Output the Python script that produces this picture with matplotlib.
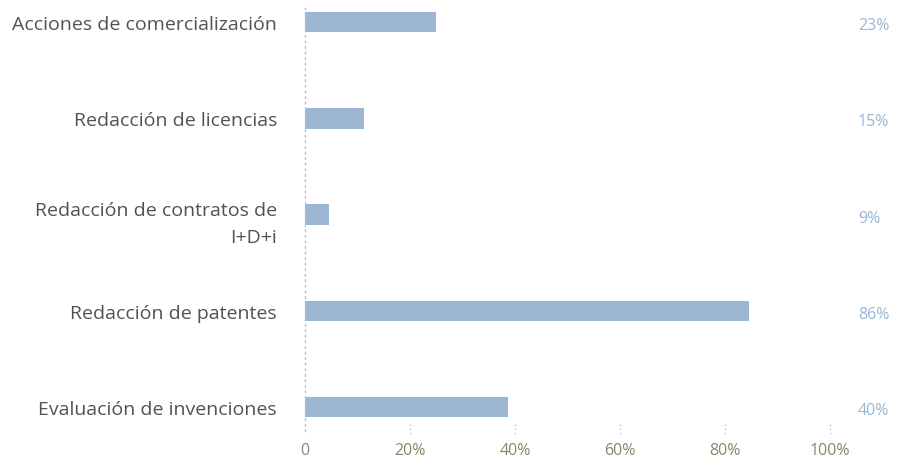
import matplotlib.pyplot as plt
import matplotlib.transforms as mtransforms

# data (top to bottom)
categories = ["Acciones de comercialización", "Redacción de licencias",
              "Redacción de contratos de\nI+D+i", "Redacción de patentes",
              "Evaluación de invenciones"]
bar_values = [25, 11.3, 4.6, 84.5, 38.6]
value_labels = ["23%", "15%", "9%", "86%", "40%"]
x_ticks = [0, 20, 40, 60, 80, 100]
x_tick_labels = ["0", "20%", "40%", "60%", "80%", "100%"]

plt.rcParams['font.family'] = ['Open Sans', 'DejaVu Sans']

bar_color = "#9db6d4"
label_color = "#9ab4d6"
tick_color = "#8c8567"
text_color = "#525252"

fig = plt.figure(figsize=(9.03, 4.64), dpi=100)
ax = fig.add_axes([0.3378, 0.069, 0.5814, 0.912])

# evaluation bar at bottom -> reverse order
ypos = list(range(len(categories)))[::-1]
ax.barh(ypos, bar_values, height=0.21, color=bar_color)

ax.set_xlim(0, 100)
ax.set_ylim(-0.25, 4.15)

# category labels, drawn as text so they can be nudged a little
ax.set_yticks([])
for y, cat in zip(ypos, categories):
    dy = -2 if "\n" not in cat else -9
    ax.annotate(cat, xy=(0, y), xytext=(-28, dy), textcoords='offset pixels',
                fontsize=14, color=text_color, ha='right', va='center',
                multialignment='right', linespacing=1.6, annotation_clip=False)

ax.set_xticks(x_ticks)
ax.set_xticklabels(x_tick_labels, fontsize=11.5, color=tick_color)
ax.tick_params(axis='x', length=0, pad=8)

for s in ['top', 'right', 'bottom']:
    ax.spines[s].set_visible(False)
ax.spines['left'].set_color('#bdbdbd')
ax.spines['left'].set_linestyle((0, (1, 3)))
ax.spines['left'].set_linewidth(1)

# small dotted tick marks at the bottom
trans = mtransforms.blended_transform_factory(ax.transData, ax.transAxes)
for xt in x_ticks[1:]:
    ax.plot([xt, xt], [0.0165, -0.007], transform=trans, clip_on=False,
            color='#bdbdbd', lw=1, ls=(0, (1, 2)))

# value labels at the right
for y, lab in zip(ypos, value_labels):
    ax.annotate(lab, xy=(105.3, y), xytext=(0, -3), textcoords='offset pixels',
                fontsize=11.5, color=label_color, va='center', ha='left',
                annotation_clip=False)

fig.savefig("out.png", dpi=100)
